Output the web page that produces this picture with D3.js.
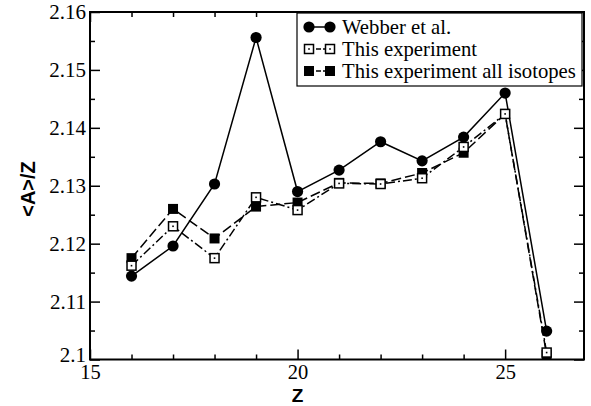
<!DOCTYPE html>
<html>
<head>
<meta charset="utf-8">
<script src="https://cdn.jsdelivr.net/npm/d3@7"></script>
<style>
  body { margin: 0; background: #fff; }
  svg text.serif { font-family: 'Liberation Serif', 'DejaVu Serif', 'Times New Roman', Times, serif; }
  svg text.sans { font-family: 'Liberation Sans', Arial, 'DejaVu Sans', sans-serif; font-weight: bold; }
</style>
</head>
<body>
<div id="vis"></div>
<script>
// data
const Z_VALUES = [16, 17, 18, 19, 20, 21, 22, 23, 24, 25, 26];
const WEBBER = [2.1144, 2.1196, 2.1303, 2.1556, 2.1290, 2.1327, 2.1376, 2.1343, 2.1384, 2.1460, 2.1049];
const THIS_EXP = [2.1162, 2.1230, 2.1175, 2.1280, 2.1258, 2.1304, 2.1303, 2.1313, 2.1367, 2.1424, 2.1012];
const THIS_EXP_ALL = [2.1175, 2.1260, 2.1209, 2.1264, 2.1271, 2.1305, 2.1304, 2.1322, 2.1357, 2.1424, 2.1008];
const SERIES_NAMES = ["Webber et al.", "This experiment", "This experiment all isotopes"];
const X_TICKS = [15, 20, 25];
const Y_TICKS = [2.1, 2.11, 2.12, 2.13, 2.14, 2.15, 2.16];

const FRAME_WIDTH = 591;
const FRAME_HEIGHT = 406;
const MARGINS = {left: 90, right: 7, top: 12, bottom: 46.5};
const VIS_WIDTH = FRAME_WIDTH - MARGINS.left - MARGINS.right;
const VIS_HEIGHT = FRAME_HEIGHT - MARGINS.top - MARGINS.bottom;

const FRAME = d3.select("#vis")
  .append("svg")
    .attr("width", FRAME_WIDTH)
    .attr("height", FRAME_HEIGHT);

const X_SCALE = d3.scaleLinear().domain([15, 26.9]).range([0, VIS_WIDTH]);
const Y_SCALE = d3.scaleLinear().domain([2.1, 2.16]).range([VIS_HEIGHT, 0]);

const G = FRAME.append("g")
  .attr("transform", "translate(" + MARGINS.left + "," + MARGINS.top + ")");

// minor ticks (inward, all four sides)
const xMinor = d3.range(16, 27, 1).filter(d => !X_TICKS.includes(d));
const yMinor = d3.range(2.105, 2.16, 0.01);

function tickSide(axisFn, scale, values, len, fmt) {
  return axisFn(scale).tickValues(values).tickSize(-len).tickSizeOuter(0).tickFormat(fmt);
}

const none = () => "";

G.append("g").attr("transform", "translate(0," + VIS_HEIGHT + ")")
  .call(tickSide(d3.axisBottom, X_SCALE, xMinor, 5, none));
G.append("g")
  .call(tickSide(d3.axisTop, X_SCALE, xMinor, 5, none));
G.append("g")
  .call(tickSide(d3.axisLeft, Y_SCALE, yMinor, 5, none));
G.append("g").attr("transform", "translate(" + VIS_WIDTH + ",0)")
  .call(tickSide(d3.axisRight, Y_SCALE, yMinor, 5, none));

// major ticks
const xAxis = G.append("g").attr("transform", "translate(0," + VIS_HEIGHT + ")")
  .call(tickSide(d3.axisBottom, X_SCALE, X_TICKS, 10, d3.format("d")));
G.append("g")
  .call(tickSide(d3.axisTop, X_SCALE, X_TICKS, 10, none));

const yAxis = G.append("g")
  .call(tickSide(d3.axisLeft, Y_SCALE, Y_TICKS, 10, d3.format(".2~f")));
G.append("g").attr("transform", "translate(" + VIS_WIDTH + ",0)")
  .call(tickSide(d3.axisRight, Y_SCALE, Y_TICKS, 10, none));

G.selectAll("g").attr("font-family", null);
G.selectAll(".domain").remove();
G.selectAll(".tick line").attr("stroke", "#000").attr("stroke-width", 1.5);
G.selectAll(".tick text")
  .attr("class", "serif")
  .attr("font-size", 21)
  .attr("fill", "#000");

xAxis.selectAll(".tick text").attr("y", 5).attr("dy", "0.71em").attr("font-size", 20.5);
yAxis.selectAll(".tick text").attr("x", -4);
yAxis.selectAll(".tick").filter(d => d === 2.1).select("text").attr("dy", "0.1em");

// frame
G.append("rect")
  .attr("x", 0).attr("y", 0)
  .attr("width", VIS_WIDTH).attr("height", VIS_HEIGHT)
  .attr("fill", "none").attr("stroke", "#000").attr("stroke-width", 2);

// series
const SERIES = [
  {values: WEBBER, dash: null, symbol: "circle"},
  {values: THIS_EXP, dash: "9,3,2,3", symbol: "open"},
  {values: THIS_EXP_ALL, dash: "10,4", symbol: "filled"}
];

const line = d3.line()
  .x(d => X_SCALE(d[0]))
  .y(d => Y_SCALE(d[1]));

function drawSymbol(sel, type) {
  if (type === "circle") {
    sel.append("circle").attr("r", 5.6).attr("fill", "#000");
  } else if (type === "open") {
    sel.append("rect").attr("x", -4.5).attr("y", -4.5).attr("width", 9).attr("height", 9)
      .attr("fill", "#fff").attr("stroke", "#000").attr("stroke-width", 1.5);
    sel.append("rect").attr("x", -0.8).attr("y", -0.8).attr("width", 1.6).attr("height", 1.6)
      .attr("fill", "#000");
  } else {
    sel.append("rect").attr("x", -5).attr("y", -5).attr("width", 10).attr("height", 10)
      .attr("fill", "#000");
  }
}

// draw lines first, then symbols
SERIES.slice().reverse().forEach(s => {
  const pts = Z_VALUES.map((z, i) => [z, s.values[i]]);
  G.append("path")
    .datum(pts)
    .attr("d", line)
    .attr("fill", "none")
    .attr("stroke", "#000")
    .attr("stroke-width", 1.5)
    .attr("stroke-dasharray", s.dash);
});

SERIES.slice().reverse().forEach(s => {
  const pts = Z_VALUES.map((z, i) => [z, s.values[i]]);
  G.selectAll(null)
    .data(pts)
    .enter()
    .append("g")
      .attr("transform", d => "translate(" + X_SCALE(d[0]) + "," + Y_SCALE(d[1]) + ")")
      .each(function() { drawSymbol(d3.select(this), s.symbol); });
});

// legend
const LEG = FRAME.append("g").attr("transform", "translate(297,13)");
LEG.append("rect")
  .attr("width", 285).attr("height", 73)
  .attr("fill", "#fff").attr("stroke", "#000").attr("stroke-width", 1.2);

SERIES.forEach((s, i) => {
  const y = 14 + i * 22;
  LEG.append("line")
    .attr("x1", 12).attr("x2", 33).attr("y1", y).attr("y2", y)
    .attr("stroke", "#000").attr("stroke-width", 1.5)
    .attr("stroke-dasharray", s.dash ? "5,2" : null);
  [12, 33].forEach(x => {
    const g = LEG.append("g").attr("transform", "translate(" + x + "," + y + ")");
    drawSymbol(g, s.symbol);
  });
  LEG.append("text")
    .attr("class", "serif")
    .attr("x", 45).attr("y", y)
    .attr("dy", "0.35em")
    .attr("font-size", 20.7)
    .text(SERIES_NAMES[i]);
});

// axis titles
FRAME.append("text")
  .attr("class", "sans")
  .attr("x", MARGINS.left + X_SCALE(20))
  .attr("y", 401.5)
  .attr("text-anchor", "middle")
  .attr("font-size", 19)
  .text("Z");

FRAME.append("text")
  .attr("class", "sans")
  .attr("transform", "translate(35," + 189 + ") rotate(-90)")
  .attr("text-anchor", "middle")
  .attr("font-size", 20)
  .text("<A>/Z");
</script>
</body>
</html>
